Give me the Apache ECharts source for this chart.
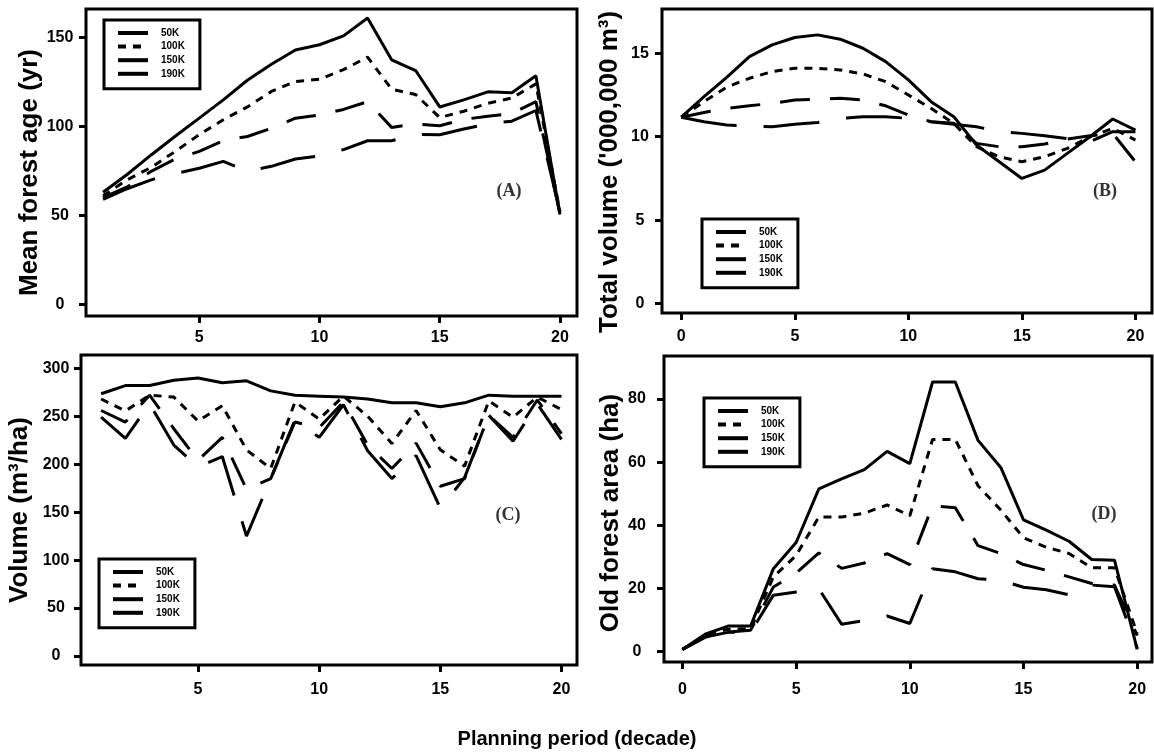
<!DOCTYPE html>
<html>
<head>
<meta charset="utf-8">
<script src="https://cdn.jsdelivr.net/npm/echarts@6/dist/echarts.min.js"></script>
<style>
  html, body { margin: 0; padding: 0; background: #fff; }
  #chart { width: 1154px; height: 753px; }
</style>
</head>
<body>
<div id="chart"></div>
<script>
// scenario names
const names = ["50K", "100K", "150K", "190K"];

// (A) mean forest age, periods 1..20
const periodsA = [1,2,3,4,5,6,7,8,9,10,11,12,13,14,15,16,17,18,19,20];
const age50 = [63, 73, 84, 94.5, 104.7, 115, 126, 135, 143, 146, 151, 161, 137.5, 131.5, 111, 115, 119.5, 119, 128.5, 50.5];
const age100 = [61, 70, 77, 86, 95.4, 103.8, 111, 119.7, 125.3, 126.6, 132, 139, 121, 118, 105, 108.6, 113, 116, 124, 52];
const age150 = [60, 66, 74.8, 81.7, 86, 92, 94.4, 99, 104.7, 106.5, 109.6, 114, 99.5, 101.5, 100.4, 104, 105.8, 107.3, 114, 51];
const age190 = [59, 65, 70, 73.5, 76.5, 80.4, 74.8, 77.6, 81.7, 83.5, 87, 92, 92, 95.5, 95.4, 98.6, 101.5, 103, 109, 52];

// (B) total volume, periods 0..20
const periodsB = [0,1,2,3,4,5,6,7,8,9,10,11,12,13,14,15,16,17,18,19,20];
const vol50 = [11.17, 12.4, 13.56, 14.8, 15.5, 15.94, 16.1, 15.84, 15.3, 14.5, 13.4, 12.1, 11.2, 9.5, 8.5, 7.5, 8.0, 9.0, 10.0, 11.06, 10.4];
const vol100 = [11.17, 12.1, 12.97, 13.5, 13.9, 14.1, 14.1, 14.0, 13.76, 13.3, 12.5, 11.7, 10.8, 9.4, 8.8, 8.5, 8.8, 9.3, 10.0, 10.5, 9.8];
const vol150 = [11.17, 11.45, 11.7, 11.85, 12.0, 12.2, 12.25, 12.3, 12.2, 11.85, 11.3, 10.9, 10.8, 9.6, 9.4, 9.4, 9.56, 9.86, 10.06, 10.2, 8.5];
const vol190 = [11.17, 10.9, 10.7, 10.65, 10.6, 10.75, 10.85, 11.1, 11.2, 11.2, 11.1, 10.9, 10.75, 10.6, 10.3, 10.2, 10.06, 9.88, 9.7, 10.3, 10.3];

// (C) volume per ha, periods 1..20
const periodsC = [1,2,3,4,5,6,7,8,9,10,11,12,13,14,15,16,17,18,19,20];
const ha50 = [273.5, 282, 282, 287.5, 290, 285, 287, 276.5, 272, 271, 270, 268, 264, 264, 260, 264, 272, 271, 271, 271];
const ha100 = [268, 255.5, 272, 270, 245, 261, 215, 195.5, 265, 247, 271, 250, 221.5, 256, 215, 198, 266, 249, 270, 257];
const ha150 = [256, 244, 272, 237, 204, 228, 174, 185, 244, 238, 265, 220, 195.5, 222, 177, 185, 251, 228, 267, 232];
const ha190 = [249, 227, 263, 220, 197, 208, 125, 185, 246, 228, 262, 214, 185, 209, 154, 186, 251, 224, 263, 226];

// (D) old forest area, periods 0..20
const periodsD = [0,1,2,3,4,5,6,7,8,9,10,11,12,13,14,15,16,17,18,19,20];
const old50 = [0.6, 5.4, 8, 8, 26.2, 34.5, 51.5, 54.7, 57.6, 63.4, 59.5, 85.4, 85.4, 66.9, 58.3, 41.7, 38.4, 34.9, 29.1, 28.9, 0.6];
const old100 = [0.6, 5, 7, 7.2, 23.6, 30.4, 42.6, 42.6, 43.8, 46.4, 43, 67.2, 67.2, 52.5, 44.8, 36, 33, 31, 26.5, 26.5, 5.6];
const old150 = [0.6, 4.5, 6.1, 6.7, 20.4, 24.8, 31.2, 26.3, 28, 31, 27.5, 46.2, 45.5, 33.5, 31, 27.5, 25.7, 23.6, 21.5, 21, 5];
const old190 = [0.6, 4.5, 6, 6, 17.8, 18.8, 19.8, 8.6, 9.7, 11.2, 8.8, 26.2, 25.2, 23, 22.5, 20.3, 19.5, 17.9, 21, 20.5, 1];

// tick labels
const xTicksA = [5, 10, 15, 20];
const xTicksB = [0, 5, 10, 15, 20];
const yTicksA = [0, 50, 100, 150];
const yTicksB = [0, 5, 10, 15];
const yTicksC = [0, 50, 100, 150, 200, 250, 300];
const yTicksD = [0, 20, 40, 60, 80];

const dashes = ["solid", [8, 7], [30, 20], [56, 27]];
const font = "Liberation Sans";
const labelFont = { fontSize: 16, fontWeight: "bold", fontFamily: font, color: "#000" };

function xAxis(grid, min, max, ticks, margin) {
  return {
    type: "value", gridIndex: grid, min: min, max: max,
    axisLine: { show: false, onZero: false },
    splitLine: { show: false },
    axisTick: { length: 7, lineStyle: { color: "#000", width: 3 }, customValues: ticks },
    axisLabel: Object.assign({ customValues: ticks, margin: margin }, labelFont),
  };
}

function yAxis(grid, min, max, ticks, margin, name, gap, shift) {
  return {
    type: "value", gridIndex: grid, min: min, max: max,
    axisLine: { show: false, onZero: false },
    splitLine: { show: false },
    axisTick: { length: 7, lineStyle: { color: "#000", width: 3 }, customValues: ticks },
    axisLabel: Object.assign({ customValues: ticks, margin: margin, align: "center" }, labelFont),
    name: name, nameLocation: "middle", nameRotate: 90, nameGap: gap,
    nameTextStyle: { fontSize: 26, fontWeight: "bold", fontFamily: font, color: "#000",
      padding: [0, shift, 0, 0] },
  };
}

function lines(grid, xs, sets) {
  return sets.map((ys, i) => ({
    name: names[i], type: "line", xAxisIndex: grid, yAxisIndex: grid,
    symbol: "none", silent: true, color: "#000",
    lineStyle: { color: "#000", width: 3, type: dashes[i] },
    data: xs.map((x, k) => [x, ys[k]]),
  }));
}

function legend(left, top) {
  return {
    data: names, orient: "vertical", left: left, top: top, selectedMode: false,
    borderColor: "#000", borderWidth: 3, padding: [8, 15, 10, 12],
    itemWidth: 30, itemHeight: 10, itemGap: 3.6,
    itemStyle: { opacity: 0 },
    lineStyle: { width: 4, color: "#000" },
    textStyle: { fontSize: 10, fontWeight: "bold", fontFamily: font, color: "#000", padding: [0, 0, 0, 8] },
  };
}

function tag(text, x, y) {
  return { type: "text", x: x, y: y,
    style: { text: text, font: 'bold 18px "Liberation Serif"', fill: "#333",
      textAlign: "center", textVerticalAlign: "middle" } };
}

const chart = echarts.init(document.getElementById("chart"));
chart.setOption({
  animation: false,
  backgroundColor: "#fff",
  title: { text: "Planning period (decade)", left: "center", top: 724,
    textStyle: { fontSize: 20, fontWeight: "bold", fontFamily: font, color: "#000" } },
  grid: [
    { left: 86, top: 9, width: 491, height: 307, show: true, borderColor: "#000", borderWidth: 3 },
    { left: 662, top: 9, width: 490, height: 304, show: true, borderColor: "#000", borderWidth: 3 },
    { left: 81, top: 355, width: 496, height: 310, show: true, borderColor: "#000", borderWidth: 3 },
    { left: 664, top: 356, width: 488, height: 306, show: true, borderColor: "#000", borderWidth: 3 },
  ],
  xAxis: [
    xAxis(0, 0.29, 20.71, xTicksA, 14),
    xAxis(1, -0.85, 20.73, xTicksB, 16),
    xAxis(2, 0.17, 20.64, xTicksA, 17),
    xAxis(3, -0.81, 20.65, xTicksB, 20),
  ],
  yAxis: [
    yAxis(0, -6.6, 166.1, yTicksA, 26, "Mean forest age (yr)", 34, 20),
    yAxis(1, -0.56, 17.65, yTicksB, 22, "Total volume ('000,000 m³)", 39, 22),
    yAxis(2, -9.4, 313.9, yTicksC, 25, "Volume (m³/ha)", 48, 0),
    yAxis(3, -3.4, 93.65, yTicksD, 27, "Old forest area (ha)", 40, 8),
  ],
  legend: [legend(104, 20), legend(702, 219), legend(99, 559), legend(704, 398)],
  graphic: [tag("(A)", 509, 191), tag("(B)", 1105, 191), tag("(C)", 508, 515), tag("(D)", 1104, 514)],
  series: [].concat(
    lines(0, periodsA, [age50, age100, age150, age190]),
    lines(1, periodsB, [vol50, vol100, vol150, vol190]),
    lines(2, periodsC, [ha50, ha100, ha150, ha190]),
    lines(3, periodsD, [old50, old100, old150, old190])
  ),
});
</script>
</body>
</html>
